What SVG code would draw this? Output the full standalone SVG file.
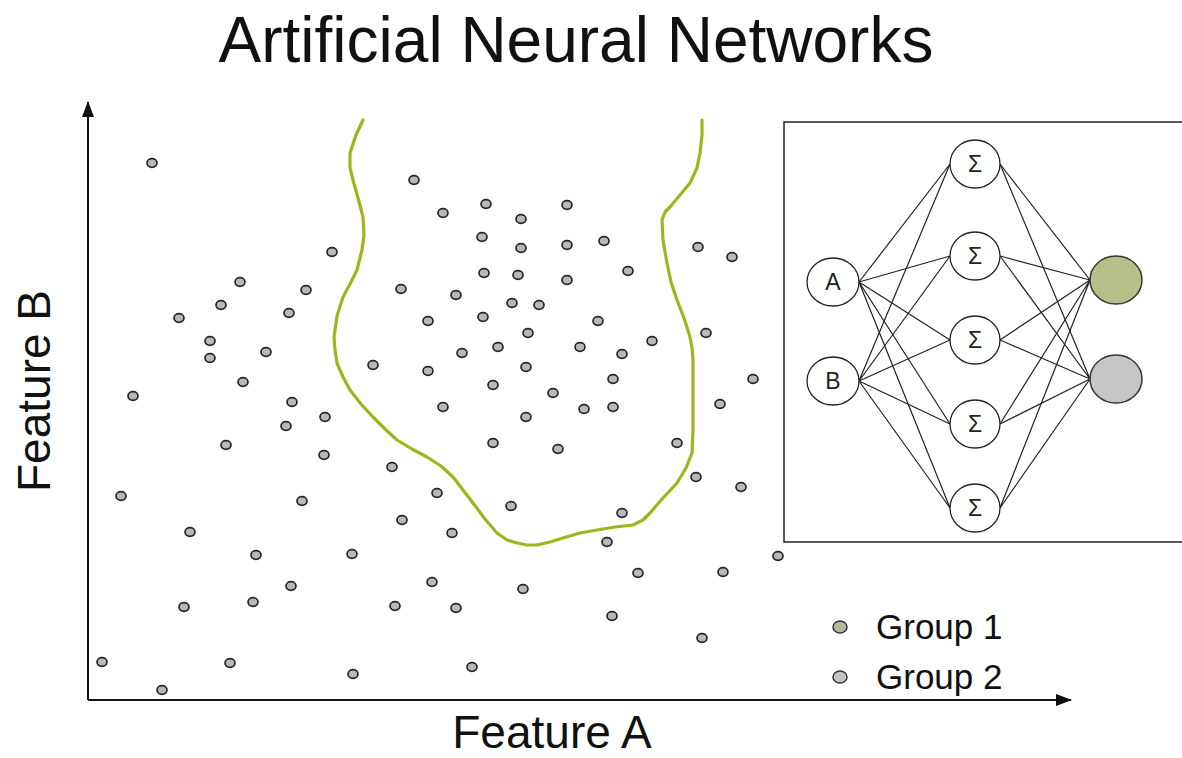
<svg xmlns="http://www.w3.org/2000/svg" width="1182" height="758" viewBox="0 0 1182 758">
<style>
.t{font-family:"Liberation Sans",Arial,sans-serif;fill:#111}
.pt{fill:#b8b8b8;stroke:#262626;stroke-width:1.7}
.node{fill:#fff;stroke:#222;stroke-width:1.3}
.lbl{font-family:"Liberation Sans",Arial,sans-serif;font-size:23px;fill:#222;text-anchor:middle}
.edge{stroke:#222;stroke-width:1.2;fill:none}
.axis{stroke:#111;stroke-width:2;fill:none}
.frame{stroke:#222;stroke-width:1.5;fill:none}
</style>
<defs>
<marker id="ah" viewBox="0 0 16 12" refX="15" refY="6" markerWidth="16" markerHeight="12" markerUnits="userSpaceOnUse" orient="auto">
<path d="M0,0 L16,6 L0,12 Z" fill="#111"/>
</marker>
</defs>
<rect width="1182" height="758" fill="#fff"/>
<text id="title" class="t" x="576" y="62" font-size="64" text-anchor="middle">Artificial Neural Networks</text>
<g id="axes">
<path class="axis" d="M88,700 L88,102" marker-end="url(#ah)"/>
<path class="axis" d="M88,700 L1071,700" marker-end="url(#ah)"/>
<text class="t" x="552" y="748" font-size="46" text-anchor="middle">Feature A</text>
<text class="t" transform="translate(50,391) rotate(-90)" font-size="46" text-anchor="middle">Feature B</text>
</g>
<g id="boundary">
<polyline fill="none" stroke="#a3b31e" stroke-width="3.2" stroke-linejoin="round" stroke-linecap="round" points="363,120 356,135 350,153 350,168 353,180 358,198 363,217 364,235 362,250 357,270 350,284 343,297 337,316 334,337 335,350 337,363 343,377 350,390 361,404 373,417 385,429 397,440 412,449 427,457 441,466 453,477 463,490 473,503 485,519 497,533 507,540 517,543 527,545 537,545 550,542 563,538 580,533 597,530 615,527 633,525 643,520 650,513 663,498 677,483 686,468 692,453 693,430 693,410 693,385 693,360 692,348 690,337 684,318 677,300 671,282 667,263 663,240 662,220 665,212 670,207 680,195 690,183 697,168 700,153 702,135 702,120"/>
</g>
<g id="points">
<ellipse class="pt" cx="152" cy="163" rx="5" ry="4.3"/><ellipse class="pt" cx="414" cy="180" rx="5" ry="4.3"/><ellipse class="pt" cx="443" cy="213" rx="5" ry="4.3"/><ellipse class="pt" cx="486" cy="204" rx="5" ry="4.3"/><ellipse class="pt" cx="521" cy="219" rx="5" ry="4.3"/><ellipse class="pt" cx="567" cy="205" rx="5" ry="4.3"/><ellipse class="pt" cx="482" cy="237" rx="5" ry="4.3"/><ellipse class="pt" cx="521" cy="248" rx="5" ry="4.3"/><ellipse class="pt" cx="567" cy="245" rx="5" ry="4.3"/><ellipse class="pt" cx="604" cy="241" rx="5" ry="4.3"/>
<ellipse class="pt" cx="332" cy="252" rx="5" ry="4.3"/><ellipse class="pt" cx="698" cy="247" rx="5" ry="4.3"/><ellipse class="pt" cx="732" cy="257" rx="5" ry="4.3"/><ellipse class="pt" cx="240" cy="282" rx="5" ry="4.3"/><ellipse class="pt" cx="306" cy="290" rx="5" ry="4.3"/><ellipse class="pt" cx="221" cy="305" rx="5" ry="4.3"/><ellipse class="pt" cx="289" cy="313" rx="5" ry="4.3"/><ellipse class="pt" cx="179" cy="318" rx="5" ry="4.3"/><ellipse class="pt" cx="401" cy="289" rx="5" ry="4.3"/><ellipse class="pt" cx="456" cy="295" rx="5" ry="4.3"/>
<ellipse class="pt" cx="484" cy="273" rx="5" ry="4.3"/><ellipse class="pt" cx="518" cy="275" rx="5" ry="4.3"/><ellipse class="pt" cx="567" cy="280" rx="5" ry="4.3"/><ellipse class="pt" cx="628" cy="271" rx="5" ry="4.3"/><ellipse class="pt" cx="512" cy="303" rx="5" ry="4.3"/><ellipse class="pt" cx="539" cy="305" rx="5" ry="4.3"/><ellipse class="pt" cx="428" cy="321" rx="5" ry="4.3"/><ellipse class="pt" cx="483" cy="317" rx="5" ry="4.3"/><ellipse class="pt" cx="528" cy="333" rx="5" ry="4.3"/><ellipse class="pt" cx="598" cy="321" rx="5" ry="4.3"/>
<ellipse class="pt" cx="706" cy="333" rx="5" ry="4.3"/><ellipse class="pt" cx="210" cy="341" rx="5" ry="4.3"/><ellipse class="pt" cx="210" cy="358" rx="5" ry="4.3"/><ellipse class="pt" cx="266" cy="352" rx="5" ry="4.3"/><ellipse class="pt" cx="373" cy="365" rx="5" ry="4.3"/><ellipse class="pt" cx="462" cy="353" rx="5" ry="4.3"/><ellipse class="pt" cx="498" cy="347" rx="5" ry="4.3"/><ellipse class="pt" cx="580" cy="347" rx="5" ry="4.3"/><ellipse class="pt" cx="622" cy="354" rx="5" ry="4.3"/><ellipse class="pt" cx="652" cy="341" rx="5" ry="4.3"/>
<ellipse class="pt" cx="428" cy="371" rx="5" ry="4.3"/><ellipse class="pt" cx="526" cy="367" rx="5" ry="4.3"/><ellipse class="pt" cx="613" cy="379" rx="5" ry="4.3"/><ellipse class="pt" cx="753" cy="379" rx="5" ry="4.3"/><ellipse class="pt" cx="243" cy="382" rx="5" ry="4.3"/><ellipse class="pt" cx="133" cy="396" rx="5" ry="4.3"/><ellipse class="pt" cx="292" cy="402" rx="5" ry="4.3"/><ellipse class="pt" cx="493" cy="385" rx="5" ry="4.3"/><ellipse class="pt" cx="553" cy="393" rx="5" ry="4.3"/><ellipse class="pt" cx="443" cy="407" rx="5" ry="4.3"/>
<ellipse class="pt" cx="584" cy="409" rx="5" ry="4.3"/><ellipse class="pt" cx="613" cy="407" rx="5" ry="4.3"/><ellipse class="pt" cx="720" cy="404" rx="5" ry="4.3"/><ellipse class="pt" cx="325" cy="417" rx="5" ry="4.3"/><ellipse class="pt" cx="286" cy="426" rx="5" ry="4.3"/><ellipse class="pt" cx="526" cy="417" rx="5" ry="4.3"/><ellipse class="pt" cx="226" cy="445" rx="5" ry="4.3"/><ellipse class="pt" cx="493" cy="443" rx="5" ry="4.3"/><ellipse class="pt" cx="558" cy="449" rx="5" ry="4.3"/><ellipse class="pt" cx="677" cy="443" rx="5" ry="4.3"/>
<ellipse class="pt" cx="324" cy="455" rx="5" ry="4.3"/><ellipse class="pt" cx="392" cy="467" rx="5" ry="4.3"/><ellipse class="pt" cx="696" cy="477" rx="5" ry="4.3"/><ellipse class="pt" cx="437" cy="493" rx="5" ry="4.3"/><ellipse class="pt" cx="121" cy="496" rx="5" ry="4.3"/><ellipse class="pt" cx="741" cy="487" rx="5" ry="4.3"/><ellipse class="pt" cx="302" cy="501" rx="5" ry="4.3"/><ellipse class="pt" cx="511" cy="506" rx="5" ry="4.3"/><ellipse class="pt" cx="622" cy="513" rx="5" ry="4.3"/><ellipse class="pt" cx="402" cy="520" rx="5" ry="4.3"/>
<ellipse class="pt" cx="452" cy="533" rx="5" ry="4.3"/><ellipse class="pt" cx="190" cy="532" rx="5" ry="4.3"/><ellipse class="pt" cx="607" cy="542" rx="5" ry="4.3"/><ellipse class="pt" cx="352" cy="554" rx="5" ry="4.3"/><ellipse class="pt" cx="256" cy="555" rx="5" ry="4.3"/><ellipse class="pt" cx="778" cy="556" rx="5" ry="4.3"/><ellipse class="pt" cx="638" cy="573" rx="5" ry="4.3"/><ellipse class="pt" cx="723" cy="572" rx="5" ry="4.3"/><ellipse class="pt" cx="432" cy="582" rx="5" ry="4.3"/><ellipse class="pt" cx="291" cy="586" rx="5" ry="4.3"/>
<ellipse class="pt" cx="523" cy="589" rx="5" ry="4.3"/><ellipse class="pt" cx="184" cy="607" rx="5" ry="4.3"/><ellipse class="pt" cx="253" cy="602" rx="5" ry="4.3"/><ellipse class="pt" cx="395" cy="606" rx="5" ry="4.3"/><ellipse class="pt" cx="456" cy="608" rx="5" ry="4.3"/><ellipse class="pt" cx="612" cy="616" rx="5" ry="4.3"/><ellipse class="pt" cx="702" cy="638" rx="5" ry="4.3"/><ellipse class="pt" cx="102" cy="662" rx="5" ry="4.3"/><ellipse class="pt" cx="230" cy="663" rx="5" ry="4.3"/><ellipse class="pt" cx="472" cy="667" rx="5" ry="4.3"/>
<ellipse class="pt" cx="353" cy="674" rx="5" ry="4.3"/><ellipse class="pt" cx="162" cy="690" rx="5" ry="4.3"/>
</g>
<g id="panel">
<polyline class="frame" points="1182,122 784,122 784,542 1182,542"/>
</g>
<g id="connectors">
<path class="edge" d="M859,282 L950,164 M859,282 L950,256 M859,282 L950,340 M859,282 L950,424 M859,282 L950,508"/>
<path class="edge" d="M859,381 L950,164 M859,381 L950,256 M859,381 L950,340 M859,381 L950,424 M859,381 L950,508"/>
<path class="edge" d="M1000,164 L1090,280 M1000,256 L1090,280 M1000,340 L1090,280 M1000,424 L1090,280 M1000,508 L1090,280"/>
<path class="edge" d="M1000,164 L1090,379 M1000,256 L1090,379 M1000,340 L1090,379 M1000,424 L1090,379 M1000,508 L1090,379"/>
</g>
<g id="input-A"><ellipse class="node" cx="833" cy="282" rx="26" ry="24"/><text class="lbl" x="833" y="290">A</text></g>
<g id="input-B"><ellipse class="node" cx="833" cy="381" rx="26" ry="24"/><text class="lbl" x="833" y="389">B</text></g>
<g id="hidden-1"><ellipse class="node" cx="975" cy="164" rx="25" ry="24"/><text class="lbl" x="975" y="172">Σ</text></g>
<g id="hidden-2"><ellipse class="node" cx="975" cy="256" rx="25" ry="24"/><text class="lbl" x="975" y="264">Σ</text></g>
<g id="hidden-3"><ellipse class="node" cx="975" cy="340" rx="25" ry="24"/><text class="lbl" x="975" y="348">Σ</text></g>
<g id="hidden-4"><ellipse class="node" cx="975" cy="424" rx="25" ry="24"/><text class="lbl" x="975" y="432">Σ</text></g>
<g id="hidden-5"><ellipse class="node" cx="975" cy="508" rx="25" ry="24"/><text class="lbl" x="975" y="516">Σ</text></g>
<g id="output-1"><ellipse cx="1116" cy="280" rx="26" ry="24" fill="#b7c08a" stroke="#333" stroke-width="1.5"/></g>
<g id="output-2"><ellipse cx="1116" cy="379" rx="26" ry="24" fill="#c6c6c6" stroke="#333" stroke-width="1.5"/></g>
<g id="legend">
<ellipse cx="840" cy="627" rx="7" ry="6" fill="#b4b89c" stroke="#333" stroke-width="1.5"/>
<text class="t" x="876" y="639" font-size="35">Group 1</text>
<ellipse cx="840" cy="677" rx="7" ry="6" fill="#c4c4c4" stroke="#333" stroke-width="1.5"/>
<text class="t" x="876" y="689" font-size="35">Group 2</text>
</g>
</svg>
